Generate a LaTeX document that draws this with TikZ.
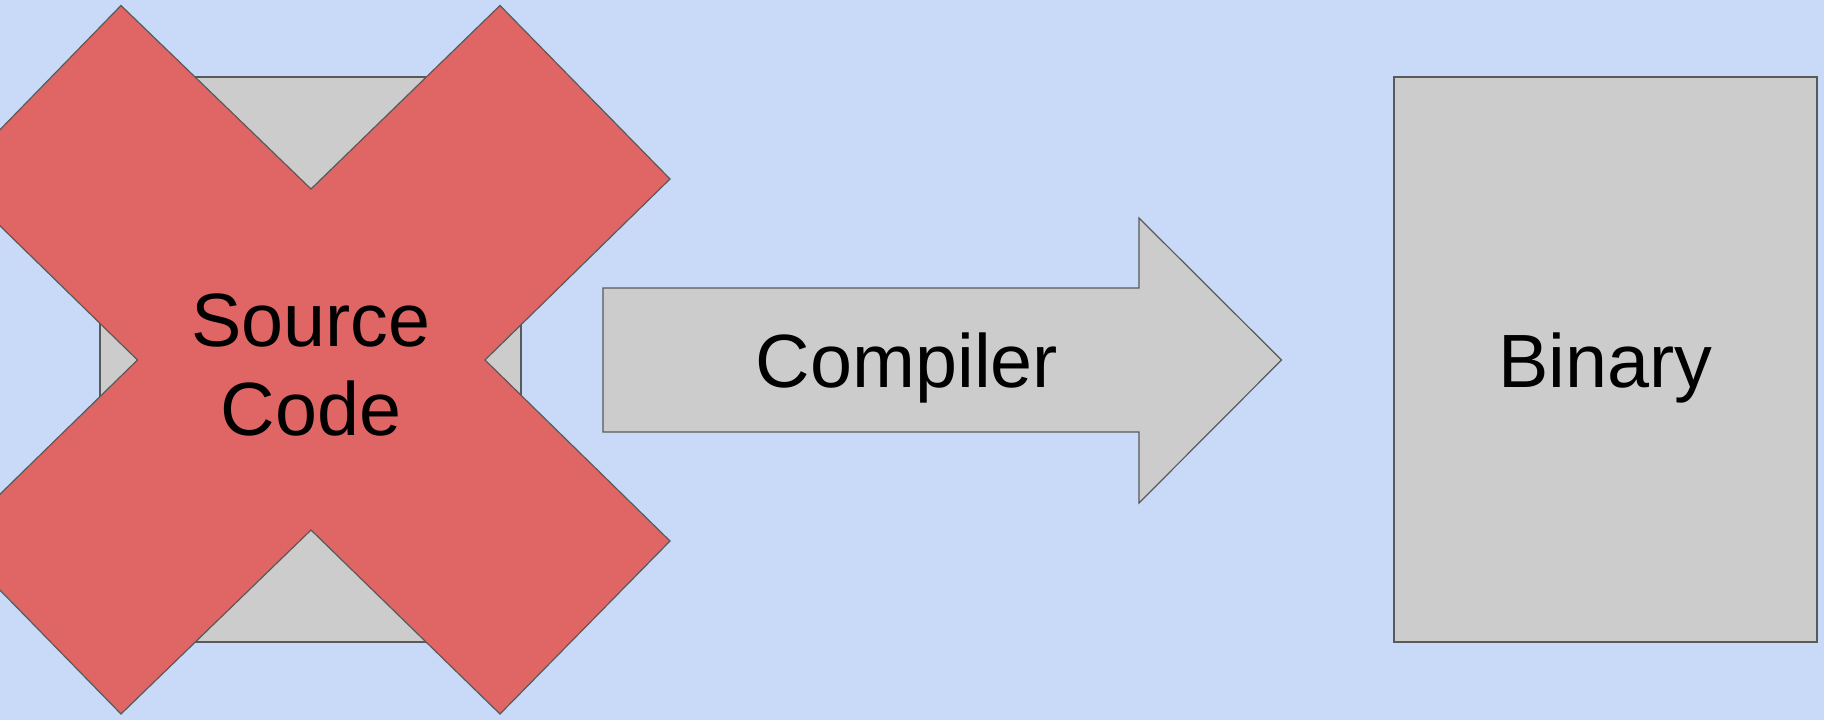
\documentclass[tikz,border=0pt]{standalone}
\usepackage{fontspec}
\setmainfont{Liberation Sans}
\definecolor{bgblue}{HTML}{C9DAF8}
\definecolor{boxgray}{HTML}{CCCCCC}
\definecolor{xred}{HTML}{E06666}
\definecolor{edgegray}{HTML}{595959}
\begin{document}
\begin{tikzpicture}[x=1pt,y=-1pt,
  shapeline/.style={draw=edgegray,line width=1.2pt,line join=miter},
  graybox/.style={shapeline,fill=boxgray,rectangle,inner sep=0pt},
  bigtext/.style={font=\fontsize{75.5}{89}\selectfont,text=black,inner sep=0pt}]
\fill[bgblue] (0,0) rectangle (1824,720);
\useasboundingbox (0,0) rectangle (1824,720);
\clip (0,0) rectangle (1824,720);
% Source code box
\node[graybox,minimum width=421pt,minimum height=565pt] (src) at (310.5,359.5) {};
% red X
\draw[shapeline,fill=xred] (121,5.5) -- (311,189) -- (500,5.5) -- (670,179) -- (485,360)
  -- (670,541) -- (500,714) -- (311,530) -- (121,714) -- (-48,541) -- (137.5,360)
  -- (-48,179) -- cycle;
\node[bigtext,align=center] (srclabel) at (311,365) {Source\\Code};
% compiler arrow
\draw[shapeline,fill=boxgray] (603,288) -- (1139,288) -- (1139,218) -- (1281.5,360)
  -- (1139,503) -- (1139,432) -- (603,432) -- cycle;
\node[bigtext,anchor=base] (comp) at (907,387) {Compiler};
% binary box
\node[graybox,minimum width=423pt,minimum height=565pt] (bin) at (1605.5,359.5) {};
\node[bigtext,anchor=base] (binlabel) at (1605.5,387) {Binary};
\end{tikzpicture}
\end{document}
